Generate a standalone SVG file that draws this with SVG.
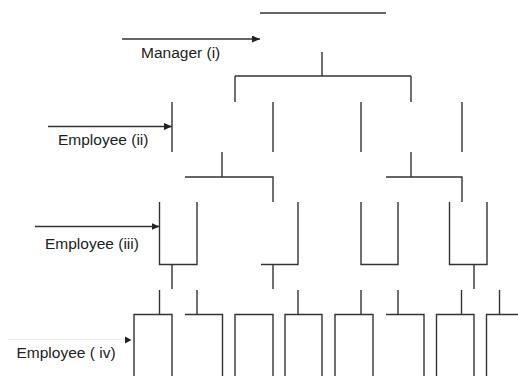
<svg xmlns="http://www.w3.org/2000/svg" width="518" height="376" viewBox="0 0 518 376">
<defs>
<marker id="arr" markerWidth="8" markerHeight="7" refX="8" refY="3.5" orient="auto" markerUnits="userSpaceOnUse">
<path d="M0,0 L8,3.5 L0,7 Z" fill="#222"/>
</marker>
<style>
.ln{fill:none;stroke:#333;stroke-width:1.4}
.ar{fill:none;stroke:#333;stroke-width:1.3}
.lbl{font-family:"Liberation Sans",Arial,sans-serif;font-size:15.5px;fill:#222}
</style>
</defs>
<rect width="518" height="376" fill="#fff"/>
<g id="manager">
<path class="ln" d="M260,13 H386"/>
</g>
<g id="emp2a"><path class="ln" d="M172,102 V152 M273,102 V152"/></g>
<g id="emp2b"><path class="ln" d="M361,102 V152 M462,102 V152"/></g>
<g id="emp3a"><path class="ln" d="M159.5,202 V264.5 H197 V202"/></g>
<g id="emp3b"><path class="ln" d="M261,264.5 H298 V202"/></g>
<g id="emp3c"><path class="ln" d="M361,202 V264.5 H398 V202"/></g>
<g id="emp3d"><path class="ln" d="M449.5,202 V264.5 H487 V202"/></g>
<g id="emp4a"><path class="ln" d="M134,376 V314.5 H172 V376"/></g>
<g id="emp4b"><path class="ln" d="M185,314.5 H222.5 V376"/></g>
<g id="emp4c"><path class="ln" d="M235,376 V314.5 H273 V376"/></g>
<g id="emp4d"><path class="ln" d="M285,376 V314.5 H322 V376"/></g>
<g id="emp4e"><path class="ln" d="M335,376 V314.5 H373 V376"/></g>
<g id="emp4f"><path class="ln" d="M386,314.5 H424 V376"/></g>
<g id="emp4g"><path class="ln" d="M436.5,376 V314.5 H474 V376"/></g>
<g id="emp4h"><path class="ln" d="M486.5,376 V314.5 H518"/></g>
<g id="connectors">
<path class="ln" d="M322,52 V76 M235,76 H411 M235,76 V102 M411,76 V102"/>
<path class="ln" d="M222,152 V177 M185,177 H273 V202"/>
<path class="ln" d="M411,152 V177 M386,177 H462 V202"/>
<path class="ln" d="M172,264.5 V289 M273,264.5 V289 M474,264.5 V289"/>
<path class="ln" d="M159.5,290 V314.5 M197,290 V314.5 M298,290 V314.5 M361,290 V314.5 M398,290 V314.5 M461.5,290 V314.5 M499.5,290 V314.5"/>
</g>
<g id="labels">
<path class="ar" d="M122,39 H260" marker-end="url(#arr)"/>
<text class="lbl" x="141" y="57.5">Manager (i)</text>
<path class="ar" d="M48,126.5 H172" marker-end="url(#arr)"/>
<text class="lbl" x="58" y="145">Employee (ii)</text>
<path class="ar" d="M35,226.5 H159.5" marker-end="url(#arr)"/>
<text class="lbl" x="45" y="249">Employee (iii)</text>
<path d="M8,339.5 H125" fill="none" stroke="#ececec" stroke-width="1"/>
<path d="M125,336.5 L131.5,340 L125,343.5 Z" fill="#222"/>
<text class="lbl" x="16.5" y="358">Employee ( iv)</text>
</g>
</svg>
